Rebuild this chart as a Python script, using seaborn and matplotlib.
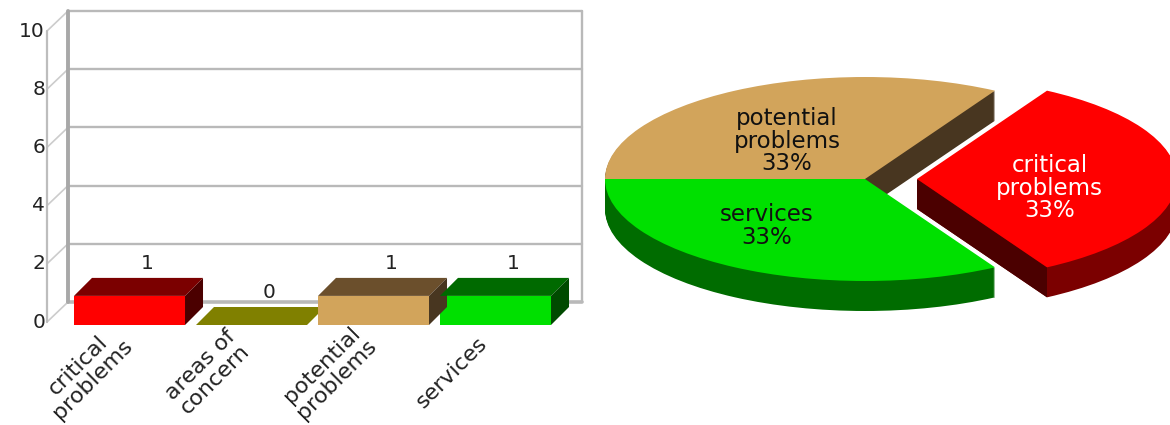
import matplotlib
matplotlib.use('Agg')
import matplotlib.pyplot as plt
import numpy as np
import seaborn as sns

categories = ['critical\nproblems', 'areas of\nconcern', 'potential\nproblems', 'services']
counts = [1, 0, 1, 1]
y_ticks = [0, 2, 4, 6, 8, 10]

front_colors = ['#ff0000', '#808000', '#d2a45b', '#00e000']
top_colors = ['#7b0000', '#808000', '#6b4f2c', '#006a00']
side_colors = ['#4b0000', '#808000', '#483620', '#004a00']
pie_wall_colors = ['#7b0000', '#808000', '#483620', '#006c00']

W, H = 1170, 425
sns.set_style('white')
plt.rcParams['font.family'] = 'DejaVu Sans'
fig = plt.figure(figsize=(W / 100, H / 100), dpi=100)

# bar axes spans the whole figure, one category = 122 px, one unit = 29.1 px
ax = fig.add_axes([0, 0, 1, 1])
sns.barplot(x=categories, y=counts, hue=categories, palette=front_colors, dodge=False,
            saturation=1, width=0.91, legend=False, ax=ax, linewidth=0, zorder=3)
ax.set_xlim(-129.5 / 122, (W - 129.5) / 122)
ax.set_ylim(-100 / 29.1, 325 / 29.1)
ax.axis('off')

ux, uy = 1 / 122, 1 / 29.1
x_front, x_back, x_right = -82.5 * ux, -61.5 * ux, 452.5 * ux
lift = 3 * uy
wall_dy = 20 * uy
grid = '#b9b9b9'
for v in y_ticks:
    yf = v + lift
    yb = yf + wall_dy
    ax.plot([x_front, x_back], [yf, yb], color='#cccccc', lw=1.2, zorder=1)
    ax.plot([x_back, x_right], [yb, yb], color=grid, lw=2.6 if v == 0 else 1.7, zorder=1)
    ax.text(x_front - 2 * ux, yf, str(v), ha='right', va='center', fontsize=14.5, color='#222222')
ax.plot([x_front, x_front], [lift, 10 + lift], color='#bdbdbd', lw=1.6, zorder=1)
ax.plot([x_back, x_back], [lift + wall_dy, 10 + lift + wall_dy], color='#a8a8a8', lw=2.8, zorder=1)
ax.plot([x_right, x_right], [lift + wall_dy, 10 + lift + wall_dy], color=grid, lw=1.7, zorder=1)

# fake 3d faces hung on the seaborn bars
bar_dx, bar_dy = 18 * ux, 18 * uy
for i, bar in enumerate(ax.patches):
    x0, w, h = bar.get_x(), bar.get_width(), bar.get_height()
    ax.fill([x0, x0 + w, x0 + w + bar_dx, x0 + bar_dx], [h, h, h + bar_dy, h + bar_dy],
            color=top_colors[i], lw=0, zorder=3.2 if h > 0 else 2.5)
    if h > 0:
        ax.fill([x0 + w, x0 + w + bar_dx, x0 + w + bar_dx, x0 + w], [0, bar_dy, h + bar_dy, h],
                color=side_colors[i], lw=0, zorder=3 + i * 0.1)
    ax.text(x0 + w / 2 + bar_dx, h + bar_dy + 14 * uy, str(counts[i]), ha='center', va='center',
            fontsize=14.5, color='#222222', zorder=5)
    ax.text(i - 44 * ux, -47 * uy, categories[i], rotation=45, rotation_mode='anchor', ha='center',
            va='center', multialignment='center', fontsize=16, linespacing=1.0, color='#222222')

# pie axes, radius 260 x 102 px, centred on (865, 179)
pie_ax = fig.add_axes([0, 0, 1, 1])
pie_ax.patch.set_alpha(0)
pie_idx = [i for i, c in enumerate(counts) if c > 0]
pie_vals = [counts[i] for i in pie_idx]
pie_share = [f'{v / sum(pie_vals):.0%}' for v in pie_vals]
pie_names = [categories[i] for i in pie_idx]
pie_front = [front_colors[i] for i in pie_idx]
pie_wall = [pie_wall_colors[i] for i in pie_idx]
explode = [0.2, 0, 0]
depth_px = 30
layer_order = {0: 5, 1: 1, 2: 3}

for off in np.arange(depth_px, -1, -1) / 102:
    colors = pie_wall if off > 0 else pie_front
    wedges, _ = pie_ax.pie(pie_vals, colors=colors, explode=explode, startangle=-60,
                           center=(0, -off), radius=1, wedgeprops={'lw': 0, 'antialiased': True})
    for j, wedge in enumerate(wedges):
        wedge.set_zorder(layer_order[j] + (2 if off == 0 else 0))
        if off == 0 and j == 0:
            # cut face of the pulled out slice
            cx, cy = wedge.center
            a = np.deg2rad(wedge.theta1)
            tip = (cx + np.cos(a), cy + np.sin(a))
            pie_ax.fill([cx, tip[0], tip[0], cx], [cy, tip[1], tip[1] - depth_px / 102, cy - depth_px / 102],
                        color=side_colors[0], lw=0, zorder=6)
            wedge.set_zorder(7)

pie_ax.set_aspect('auto')
pie_ax.set_xlim(-865 / 260, (W - 865) / 260)
pie_ax.set_ylim((179 - H) / 102, 179 / 102)
pie_ax.axis('off')

label_pos = [(0.71, -0.09), (-0.30, 0.37), (-0.38, -0.46)]
label_col = ['white', '#111111', '#111111']
for name, share, (lx, ly), col in zip(pie_names, pie_share, label_pos, label_col):
    pie_ax.text(lx, ly, f'{name}\n{share}', ha='center', va='center', multialignment='center',
                fontsize=16.5, linespacing=0.98, color=col, zorder=10)

fig.savefig('out.png', dpi=100)
